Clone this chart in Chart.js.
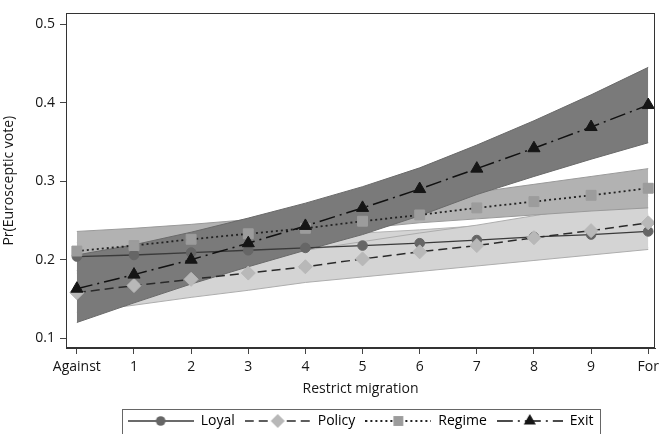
<!DOCTYPE html>
<html>
<head>
<meta charset="utf-8">
<script src="https://cdn.jsdelivr.net/npm/chart.js@4.4.1/dist/chart.umd.min.js"></script>
<style>
  html, body { margin: 0; padding: 0; background: #fff; }
  canvas { display: block; }
</style>
</head>
<body>
<canvas id="chart" width="664" height="434"></canvas>
<script>
// categories and ticks
const xLabels = ['Against', '1', '2', '3', '4', '5', '6', '7', '8', '9', 'For'];
const yTicks = [0.1, 0.2, 0.3, 0.4, 0.5];
const seriesNames = ['Loyal', 'Policy', 'Regime', 'Exit'];

// predicted probabilities
const loyal  = [0.204, 0.206, 0.209, 0.212, 0.215, 0.218, 0.221, 0.225, 0.229, 0.232, 0.236];
const policy = [0.158, 0.167, 0.175, 0.183, 0.191, 0.201, 0.210, 0.218, 0.228, 0.237, 0.247];
const regime = [0.211, 0.218, 0.226, 0.233, 0.240, 0.249, 0.257, 0.266, 0.274, 0.282, 0.291];
const exit   = [0.163, 0.181, 0.200, 0.221, 0.243, 0.266, 0.290, 0.316, 0.342, 0.369, 0.397];

// confidence bands
const loyalLow   = [0.186, 0.189, 0.193, 0.197, 0.200, 0.202, 0.204, 0.207, 0.210, 0.212, 0.215];
const loyalHigh  = [0.222, 0.223, 0.225, 0.227, 0.230, 0.234, 0.238, 0.243, 0.248, 0.253, 0.258];
const policyLow  = [0.133, 0.142, 0.152, 0.161, 0.171, 0.178, 0.185, 0.192, 0.199, 0.206, 0.213];
const policyHigh = [0.183, 0.192, 0.199, 0.206, 0.212, 0.223, 0.234, 0.244, 0.256, 0.268, 0.281];
const regimeLow  = [0.186, 0.197, 0.208, 0.219, 0.230, 0.240, 0.247, 0.252, 0.257, 0.262, 0.266];
const regimeHigh = [0.236, 0.240, 0.245, 0.251, 0.258, 0.266, 0.275, 0.286, 0.296, 0.306, 0.316];
const exitLow    = [0.120, 0.145, 0.169, 0.191, 0.212, 0.232, 0.256, 0.283, 0.306, 0.328, 0.349];
const exitHigh   = [0.206, 0.219, 0.235, 0.253, 0.272, 0.293, 0.317, 0.346, 0.377, 0.410, 0.445];

const xPos = xLabels.map((label, i) => i);
const pts = values => values.map((v, i) => ({x: xPos[i], y: v}));

const FONT = {family: '"Open Sans", "DejaVu Sans", sans-serif', size: 14};
const TEXT = '#161616';

// line styles for the four groups
const styles = [
    {dash: [], line: '#3a3a3a', width: 1.3, point: 'circle', fill: '#666666', radius: 4.8},
    {dash: [9, 5], line: '#2a2a2a', width: 1.5, point: 'rectRot', fill: '#b8b8b8', radius: 7},
    {dash: [2, 3], line: '#222222', width: 1.8, point: 'rect', fill: '#9c9c9c', radius: 7},
    {dash: [16, 5, 2, 5], line: '#111111', width: 1.5, point: 'triangle', fill: '#151515', radius: 7}
];

function drawMarker(ctx, type, cx, cy, r) {
    ctx.beginPath();
    if (type === 'circle') {
        ctx.arc(cx, cy, r, 0, Math.PI * 2);
    } else if (type === 'rectRot') {
        ctx.moveTo(cx, cy - r); ctx.lineTo(cx + r, cy); ctx.lineTo(cx, cy + r); ctx.lineTo(cx - r, cy);
    } else if (type === 'rect') {
        let s = r * Math.SQRT1_2;
        ctx.rect(cx - s, cy - s, 2 * s, 2 * s);
    } else {
        ctx.moveTo(cx, cy - r); ctx.lineTo(cx + r * 0.866, cy + r * 0.5); ctx.lineTo(cx - r * 0.866, cy + r * 0.5);
    }
    ctx.closePath();
    ctx.fill();
}

// legend symbols: line sample with marker in the middle
let symbols = styles.map(s => {
    let c = document.createElement('canvas');
    c.width = 66;
    c.height = 16;
    let ctx = c.getContext('2d');
    ctx.strokeStyle = s.line;
    ctx.lineWidth = s.width;
    ctx.setLineDash(s.dash);
    ctx.beginPath();
    ctx.moveTo(0, 8);
    ctx.lineTo(66, 8);
    ctx.stroke();
    ctx.fillStyle = s.fill;
    drawMarker(ctx, s.point, 33, 8, s.radius);
    return c;
});

let lineSet = function (name, values, s, order) {
    return {
        label: name,
        data: pts(values),
        borderColor: s.line,
        borderWidth: s.width,
        borderDash: s.dash,
        pointStyle: s.point,
        pointRadius: s.radius,
        pointBackgroundColor: s.fill,
        pointBorderColor: s.fill,
        pointBorderWidth: 1,
        fill: false,
        tension: 0,
        order: order
    };
};

let bandSet = function (name, values, edge, fillColor, target, order) {
    return {
        label: name,
        data: pts(values),
        borderColor: edge,
        borderWidth: 1,
        pointRadius: 0,
        backgroundColor: fillColor,
        fill: target === null ? false : {target: target},
        tension: 0,
        order: order
    };
};

let datasets = [
    lineSet('Loyal', loyal, styles[0], 4),
    lineSet('Policy', policy, styles[1], 3),
    lineSet('Regime', regime, styles[2], 2),
    lineSet('Exit', exit, styles[3], 1),
    bandSet('loyalLow', loyalLow, '#b4b4b4', '#d4d4d4', null, 14),
    bandSet('loyalHigh', loyalHigh, '#b4b4b4', '#d4d4d4', 4, 14),
    bandSet('policyLow', policyLow, '#adadad', '#d4d4d4', null, 13),
    bandSet('policyHigh', policyHigh, '#adadad', '#d4d4d4', 6, 13),
    bandSet('regimeLow', regimeLow, '#9a9a9a', '#b2b2b2', null, 12),
    bandSet('regimeHigh', regimeHigh, '#9a9a9a', '#b2b2b2', 8, 12),
    bandSet('exitLow', exitLow, '#6a6a6a', '#7a7a7a', null, 11),
    bandSet('exitHigh', exitHigh, '#6a6a6a', '#7a7a7a', 10, 11)
];

// frame around plot and box around legend
const framePlugin = {
    id: 'frame',
    afterDraw(chart) {
        let ctx = chart.ctx;
        let a = chart.chartArea;
        ctx.save();
        ctx.strokeStyle = '#333';
        ctx.lineWidth = 1;
        ctx.strokeRect(Math.round(a.left) + 0.5, Math.round(a.top) + 0.5,
            Math.round(a.right - a.left) - 1, Math.round(a.bottom - a.top) - 1);
        let boxes = chart.legend.legendHitBoxes;
        if (boxes && boxes.length) {
            let first = boxes[0];
            let last = boxes[boxes.length - 1];
            let left = Math.round(first.left - 6) + 0.5;
            let right = Math.round(last.left + last.width + 7) + 0.5;
            ctx.strokeStyle = '#666';
            ctx.strokeRect(left, Math.round(first.top - 5) + 0.5, right - left, 40);
        }
        ctx.restore();
    }
};

new Chart(document.getElementById('chart').getContext('2d'), {
    type: 'line',
    data: {datasets: datasets},
    options: {
        responsive: false,
        animation: false,
        events: [],
        layout: {padding: {top: 6, right: 7, left: 0, bottom: -4}},
        scales: {
            x: {
                type: 'linear',
                min: -0.19,
                max: 10.12,
                afterBuildTicks: axis => { axis.ticks = xPos.map(v => ({value: v})); },
                afterFit: axis => { axis.height = 56; },
                ticks: {
                    autoSkip: false,
                    maxRotation: 0,
                    padding: 5,
                    color: TEXT,
                    font: FONT,
                    callback: (value, index) => xLabels[index]
                },
                grid: {drawOnChartArea: false, drawTicks: true, tickLength: 6, color: '#444'},
                border: {display: true, color: '#333', width: 1},
                title: {display: true, text: 'Restrict migration', color: TEXT, font: FONT, padding: {top: 0, bottom: 7}}
            },
            y: {
                type: 'linear',
                min: 0.0875,
                max: 0.51375,
                afterBuildTicks: axis => { axis.ticks = yTicks.map(v => ({value: v})); },
                afterFit: axis => { axis.width = 66; },
                ticks: {
                    padding: 5,
                    color: TEXT,
                    font: FONT,
                    callback: value => value.toFixed(1)
                },
                grid: {drawOnChartArea: false, drawTicks: true, tickLength: 6, color: '#444'},
                border: {display: true, color: '#333', width: 1},
                title: {display: true, text: 'Pr(Eurosceptic vote)', color: TEXT, font: FONT, padding: {top: 1, bottom: 0}}
            }
        },
        plugins: {
            tooltip: {enabled: false},
            filler: {propagate: false},
            legend: {
                position: 'bottom',
                fullSize: false,
                labels: {
                    usePointStyle: true,
                    pointStyleWidth: 66,
                    padding: 10,
                    color: TEXT,
                    font: FONT,
                    generateLabels: () => seriesNames.map((name, i) => ({
                        text: name,
                        pointStyle: symbols[i],
                        datasetIndex: i,
                        fillStyle: styles[i].fill,
                        strokeStyle: styles[i].line,
                        lineWidth: 0,
                        hidden: false
                    }))
                }
            }
        }
    },
    plugins: [framePlugin]
});
</script>
</body>
</html>
